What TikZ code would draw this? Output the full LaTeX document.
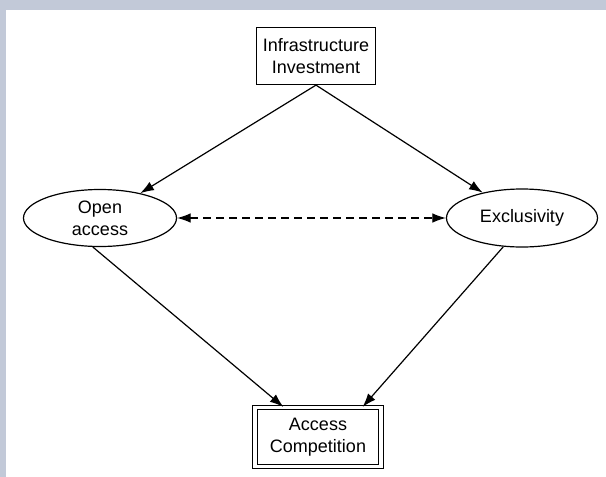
\documentclass[tikz,border=0pt]{standalone}
\usepackage{fontspec}
\setmainfont{Liberation Sans}
\usepackage{tikz}
\usetikzlibrary{shapes.geometric, arrows.meta}

\definecolor{frame}{HTML}{C2C9D8}

\begin{document}
\begin{tikzpicture}[x=0.5pt, y=-0.5pt, line width=0.6pt,
    >={Latex[length=6.8pt, width=4.8pt]},
    font=\fontsize{9}{11}\selectfont]
    % page frame
    \fill[frame] (0, 0) rectangle (606, 477);
    \fill[white] (6, 10) rectangle (606, 477);

    \node[draw, align=center, minimum width=59.5pt, minimum height=28.5pt, inner sep=1pt] at (316, 56) (inv) {Infrastructure\\Investment};
    \node[draw, ellipse, align=center, minimum width=76.5pt, minimum height=28.5pt, inner sep=1pt] at (100, 218) (open) {Open\\access};
    \node[draw, ellipse, minimum width=75.5pt, minimum height=29pt, inner sep=1pt] at (522, 218) (excl) {Exclusivity};
    \node[draw, double, double distance=1.6pt, align=center, minimum width=63pt, minimum height=29.5pt, inner sep=1pt] at (318, 437) (comp) {Access\\Competition};

    \draw[->] (inv.south) -- (open);
    \draw[->] (inv.south) -- (excl);
    \draw[<->, dash pattern=on 4pt off 2.5pt] (open.east) -- (excl.west);

    \draw[->] (open.256) -- (comp.139);
    \draw[->] (excl.237) -- (comp.34);
\end{tikzpicture}
\end{document}
